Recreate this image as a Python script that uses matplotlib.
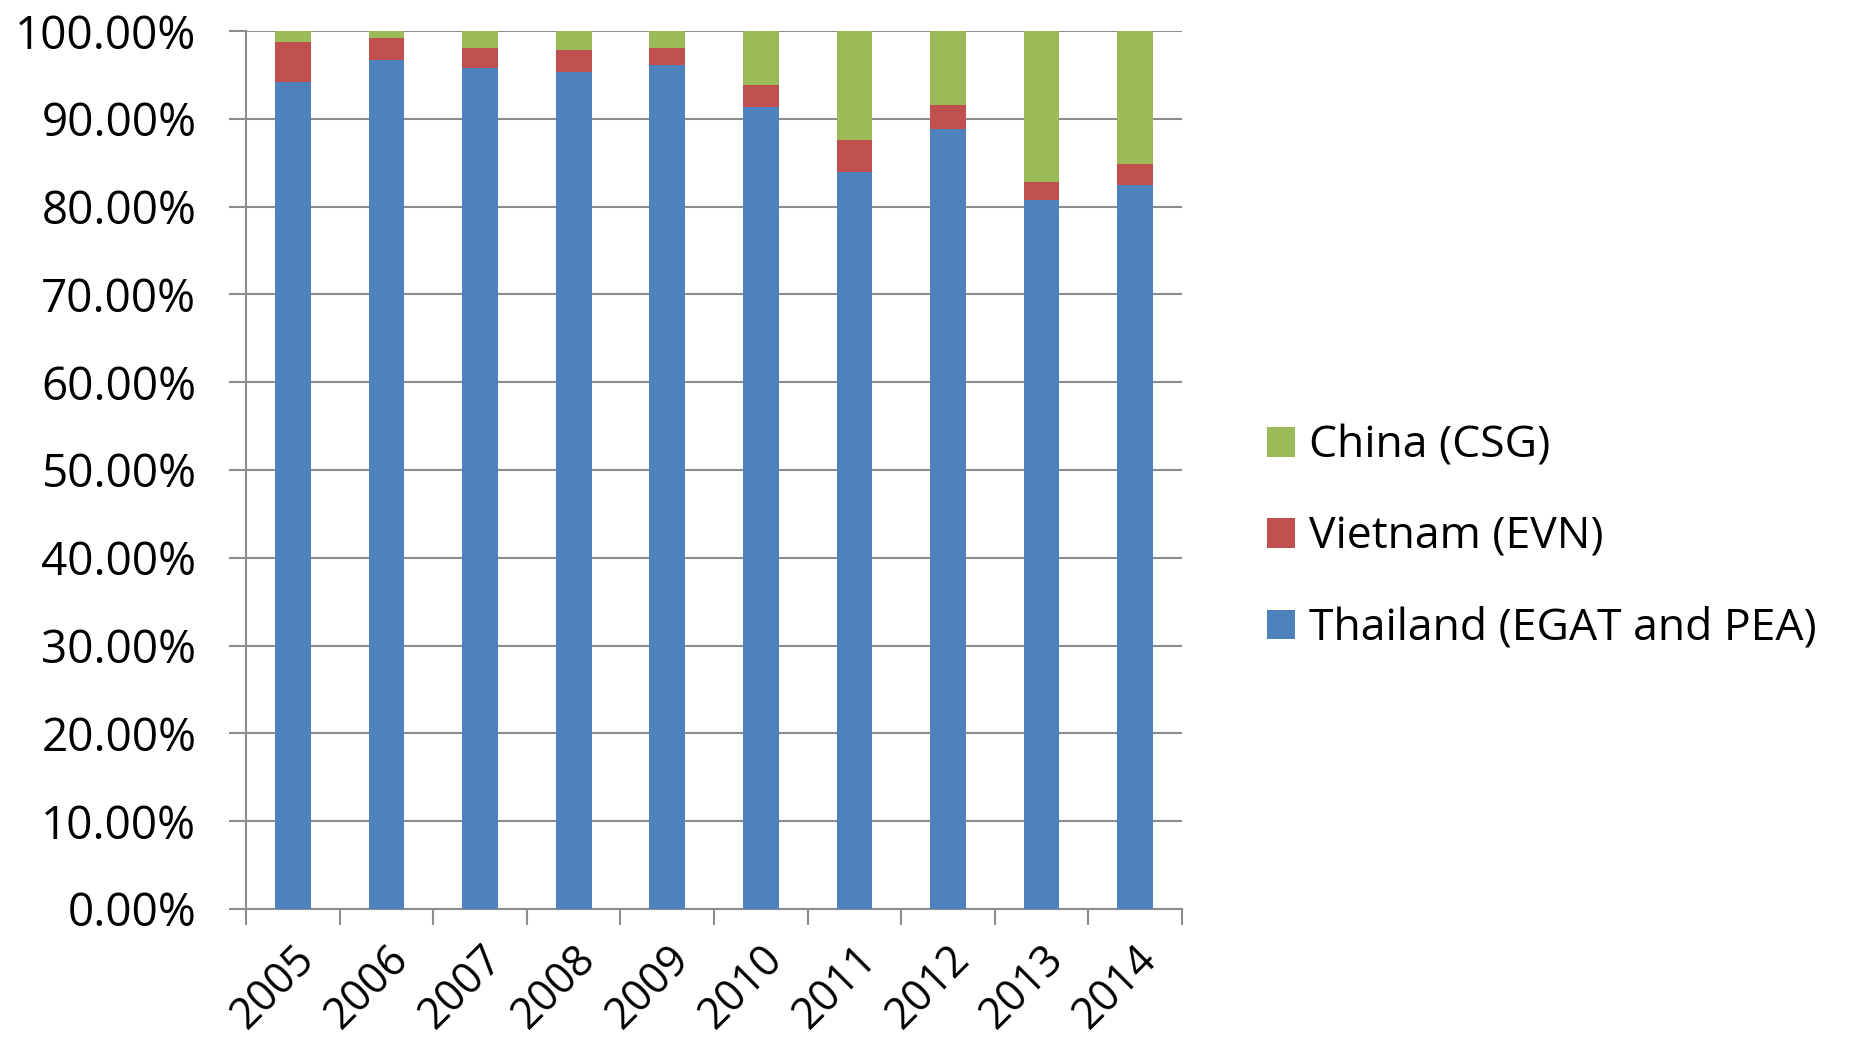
import numpy as np
import matplotlib
matplotlib.use("Agg")
import matplotlib.pyplot as plt
from matplotlib.ticker import PercentFormatter

# data (percent share of each year)
years = ["2005", "2006", "2007", "2008", "2009", "2010", "2011", "2012", "2013", "2014"]
thailand = [94.2, 96.7, 95.8, 95.3, 96.1, 91.3, 83.9, 88.8, 80.8, 82.5]
vietnam = [4.5, 2.55, 2.3, 2.5, 2.0, 2.5, 3.7, 2.8, 2.0, 2.3]
china = [1.3, 0.75, 1.9, 2.2, 1.9, 6.2, 12.4, 8.4, 17.2, 15.2]

plt.rcParams['font.family'] = ['Open Sans', 'DejaVu Sans']
fs = 33

fig = plt.figure(figsize=(18.58, 10.52), dpi=100)
ax = fig.add_axes([0.1326, 0.136, 0.5034, 0.8345])

x = np.arange(len(years))
w = 0.38
b1 = ax.bar(x, thailand, w, color='#4F81BD', label='Thailand (EGAT and PEA)', zorder=3)
b2 = ax.bar(x, vietnam, w, bottom=thailand, color='#C0504D', label='Vietnam (EVN)', zorder=3)
bottom3 = np.array(thailand) + np.array(vietnam)
b3 = ax.bar(x, china, w, bottom=bottom3, color='#9BBB59', label='China (CSG)', zorder=3)

ax.set_xlim(-0.5, len(years) - 0.5)
ax.set_ylim(0, 100)
ax.set_yticks(np.arange(0, 101, 10))
ax.yaxis.set_major_formatter(PercentFormatter(decimals=2))
ax.grid(axis='y', color='#8c8c8c', linewidth=1.5, zorder=0)

# ticks between categories on x, labels at the bar centres
ax.set_xticks(np.arange(-0.5, len(years), 1))
ax.set_xticklabels([])
ax.set_xticks(x, minor=True)
ax.set_xticklabels(years, minor=True, rotation=45, ha='right', va='top',
                   rotation_mode='anchor', fontsize=31)
ax.tick_params(axis='x', which='minor', length=0, pad=20)
ax.tick_params(axis='x', which='major', length=11.5, width=1.5, color='#8c8c8c')
ax.tick_params(axis='y', length=12, width=1.5, color='#8c8c8c', labelsize=fs, pad=24)

for s in ['top', 'right']:
    ax.spines[s].set_visible(False)
for s in ['left', 'bottom']:
    ax.spines[s].set_color('#8c8c8c')
    ax.spines[s].set_linewidth(1.5)

handles = [b3, b2, b1]
ax.legend(handles=handles, labels=[h.get_label() for h in handles],
          loc='center left', bbox_to_anchor=(1.067, 0.423), frameon=False,
          borderpad=0, fontsize=32, handlelength=0.65, handleheight=0.65,
          handletextpad=0.3, labelspacing=1.05)

fig.savefig("out.png", dpi=100)
